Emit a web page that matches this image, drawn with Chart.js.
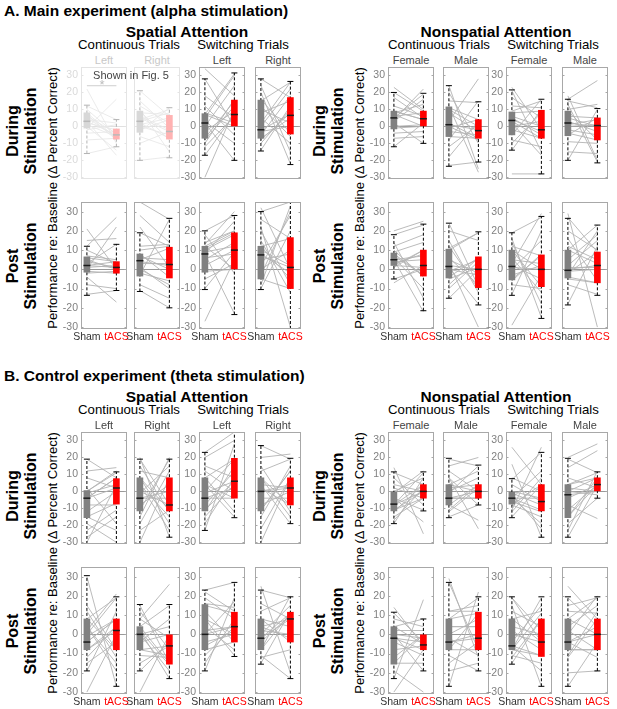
<!DOCTYPE html>
<html>
<head>
<meta charset="utf-8">
<script src="https://cdn.jsdelivr.net/npm/chart.js@4.4.1/dist/chart.umd.min.js"></script>
<style>
    body { margin: 0; background: #fff; width: 617px; height: 709px; position: relative; overflow: hidden;
           font-family: "Liberation Sans", Arial, sans-serif; color: #000; }
    .t { position: absolute; white-space: nowrap; transform: translate(-50%, -50%); line-height: 1; }
    .rot { transform: translate(-50%, -50%) rotate(-90deg); text-align: center; }
    canvas { position: absolute; }
</style>
</head>
<body>
<script>
(function() {
    'use strict';

    // ---- data ----
    const panelTitles = ['Left', 'Right', 'Left', 'Right', 'Female', 'Male', 'Female', 'Male'];
    const groupLabels = ['Sham', 'tACS'];
    const tickValues = [-30, -20, -10, 0, 10, 20, 30];

    // box stats per panel: [lower whisker, q1, median, q3, upper whisker]
    const boxAduringSham = [[-16, -1, 3, 8, 12.5], [-20, -3.5, 3, 9, 21], [-17, -7, 2, 7.5, 28], [-14.5, -7, -2, 15.5, 28],
                            [-12, -1.5, 5, 9, 20], [-23.5, -6, 1, 11.5, 24], [-14, -5, 3.5, 8.5, 21.5], [-20, -5.5, 2, 9, 16]];
    const boxAduringTacs = [[-12, -7.5, -5, -1.5, 4], [-18.5, -7.5, -3, 6.5, 11], [-20, 0, 7, 15.5, 31.5], [-22.5, -4.5, 6.5, 17, 26.5],
                            [-10, 0, 4.5, 9, 19.5], [-21, -7, -2.5, 4, 14.5], [-28, -7, -2, 9.5, 16], [-21.5, -8, 0.5, 5, 10.5]];
    const boxApostSham = [[-13.5, -1.5, 2, 6.5, 12], [-11.5, -3.5, 4.5, 8, 19], [-10.5, -1.5, 8, 12, 20], [-10.5, -5, 7.5, 12, 30],
                          [-5, 2, 5, 8.5, 18], [-15, -4.5, 1.5, 10.5, 24], [-13.5, -5.5, 1.5, 10, 19], [-18.5, -4.5, -0.5, 10, 26.5]];
    const boxApostTacs = [[-11, -2, 1, 4, 13], [-20, -4.5, 2.5, 11.5, 26.5], [-23.5, 0, 10, 19, 28], [-31, -10, 1, 16.5, 35],
                          [-21.5, -3.5, 2, 10, 23.5], [-18.5, -9.5, 0, 6.5, 19.5], [-25.5, -9, 0, 7.5, 27.5], [-13.5, -7, 2, 9, 23]];
    const boxBduringSham = [[-31, -15.5, -4, 0.5, 19], [-31, -11.5, -4, 8, 19], [-23, -11.5, -4, 8, 23], [-31, -11.5, 0, 8, 27],
                            [-19, -11.5, -7.5, -0.5, 11.5], [-15.5, -8, -4, 4, 19.5], [-15.5, -7.5, -4, -0.5, 7.5], [-27, -15.5, -2, 4, 19.5]];
    const boxBduringTacs = [[-31, -7.5, 2, 7.5, 11.5], [-27, -11.5, -8, 8, 19], [-15.5, -4, 6, 19.5, 35], [-19, -8, 2, 8, 19.5],
                            [-11.5, -4, 0, 4, 11.5], [-8, -4, 0, 4, 15.5], [-27, -11.5, -6, 4, 23], [-4, 0, 4, 8, 11.5]];
    const boxBpostSham = [[-19, -8, -4, 8, 30.5], [-19, -8, 0, 4, 15.5], [-19, -8, 0, 15.5, 23], [-15.5, -8, -2, 8, 23],
                          [-23, -15.5, -2, 4, 11.5], [-27, -8, -4, 8, 27], [-15.5, -8, -6, 8, 19.5], [-27, -8, -4, 8, 19.5]];
    const boxBpostTacs = [[-27, -8, 2, 8, 19.5], [-23, -15.5, -6, 0, 15.5], [-11.5, -4, 4, 11.5, 27], [-23, -4, 8, 11.5, 19.5],
                          [-19, -8, -5.5, 0, 8], [-19, -8, -2, 11.5, 19.5], [-27, -11.5, -4, 8, 19.5], [-19, -8, 0, 8, 19.5]];

    // individual subjects, sham value and tACS value in the same order
    const subjAduringSham = [
        [3, 8, -16, 12, 5, -1, 2, 7, 22, -4, 10, 0, 4, -8, 1, 6, -2, 3],
        [21, 9, -3, 5, 12, -20, 3, 0, 15, -6, 8, 2, -10, 4, 10, -2, 6, 1],
        [28, 7, -7, 2, 34, -17, 5, -30, 12, -10, 0, 8, -3, 18, 3, -8, 7, -12],
        [28, 15, -7, 20, -2, 5, -14, 16, 0, -5, 10, -8, 24, -3, 2, 12, -10, 8],
        [20, 9, 5, -1, 2, 17, 8, -12, 4, 6, -7, 0, 12, 23, 3, 9, -4, 7],
        [24, 11, -6, 1, 15, -23, 3, -3, 10, -12, 0, 8, -8, 20, 2, -18, 12, -1],
        [21, 8, -5, 3, 23, -14, 5, 0, 9, -8, 2, 17, -2, 6, 12, -28, 4, -10],
        [16, 9, -5, 2, 18, -20, 3, 0, 10, -9, 1, 13, -4, 6, 15, -15, 5, -2]
    ];
    const subjAduringTacs = [
        [-5, -7, -12, 4, -6, 16, -2, -8, -10, -3, -5, -14, 2, -7, -6, -4, 1, -17],
        [6, -8, 11, -3, 2, -18, 8, -5, -1, -12, 7, -7, -3, 10, -15, 4, -2, 5],
        [0, 31, 15, -20, 18, 7, 30, 10, -5, 16, 24, 2, 9, 5, -10, 12, 0, 6],
        [17, 26, 5, -22, 7, -10, 12, -4, 22, 18, 2, 8, -15, 0, 26, -6, 10, 15],
        [9, 4, 19, 0, -10, 5, 13, 2, 22, 8, -6, 1, 6, 10, 16, 4, -3, 0],
        [-25, 4, -7, -2, 14, -21, 28, -5, 0, 1, -8, -3, 15, -10, -7, 3, -27, 4],
        [-15, 9, 16, -7, -2, 10, -5, 3, 15, -12, -17, 5, -7, 0, 11, -28, -3, 8],
        [27, -8, 5, 0, -20, 10, -3, 1, 13, -10, 4, -21, -8, 5, 11, -16, 0, -5]
    ];
    const subjApostSham = [
        [12, 6, -1, 2, 21, -13, 3, 0, 10, -4, 1, 7, -2, 5, 15, -8, 2, 4],
        [19, 8, -3, 4, 35, -11, 5, 0, 28, -8, 3, 12, -2, 7, 22, 6, 10, 1],
        [20, 12, -1, 8, 13, -10, 9, -27, 11, 2, 8, 18, 5, 12, -5, 10, 6, 14],
        [30, 12, -5, 7, 22, -10, 8, 0, 20, -8, 10, 15, -3, 12, 26, 5, 32, 2],
        [18, 8, 2, 5, 20, -5, 6, 3, 9, -7, 4, 14, 1, 7, 12, 5, 10, 2],
        [24, 10, -4, 1, 20, -15, 3, -1, 12, -8, 0, 15, -5, 6, 11, -10, 2, 5],
        [19, 10, -5, 1, 16, -13, 3, -29, 12, -8, 0, 14, -3, 6, 10, -6, 2, 5],
        [27, 10, -4, 0, 29, -18, 2, -1, 12, -8, -2, 16, 5, 10, -5, 20, 1, -3]
    ];
    const subjApostTacs = [
        [27, 4, -2, 1, 0, -11, 13, 22, 3, -17, 2, 5, -1, 0, 16, -10, 4, 1],
        [12, -4, 26, 2, 26, -20, 11, -8, 14, -15, 3, 13, -6, 0, 1, 5, 12, -10],
        [28, 20, 0, -23, 30, 9, 12, 5, 19, 10, 25, -2, 14, 0, 3, 18, 8, 20],
        [35, 16, -10, 1, -30, 20, -2, 10, -8, 33, 2, -12, 30, -5, 16, 8, 0, 28],
        [23, -3, 10, -22, 25, 0, -10, 8, 14, 2, 5, -15, 10, -3, 18, 7, -4, 1],
        [-9, 19, 6, -18, 15, 0, -30, 5, -10, 6, -3, -12, 1, -8, 19, 4, 0, -2],
        [27, -9, 7, 0, -25, 20, 29, -3, 7, -10, 15, -18, 2, -12, 0, 8, -5, 3],
        [9, 23, -7, 2, -30, 12, 15, 0, 5, -13, 9, -6, 18, 3, -7, 10, 1, 20]
    ];
    const subjBduringSham = [
        [19, 0, -15, -4, 2, -30, -8, -12, 0, -19, -4, 8, -23, -1, 12, -15, -27, -4],
        [19, 8, -11, -4, 20, -30, 4, -8, 15, -15, 0, 8, -19, -4, 12, -23, -1, 4],
        [23, 8, -11, -4, 15, -23, 4, -8, 12, -15, 0, 8, -19, -4, 20, -1, 4, -12],
        [27, 8, -11, 0, 20, -30, 4, -8, 15, -15, 0, 8, -22, -4, 12, 2, -11, 4],
        [11, -1, -11, -8, 14, -19, -4, -12, 4, -15, -8, 8, -17, -4, 0, -11, -8, 2],
        [19, 4, -8, -4, 15, -15, 8, -11, 4, -4, 0, 12, -12, -8, 2, -4, 8, -1],
        [7, -1, -8, -4, 16, -15, -4, -11, 4, -8, -4, 0, -12, -2, 8, -6, 26, -4],
        [19, 4, -15, -2, 20, -27, 4, -19, 0, -8, -4, 8, -23, 2, 14, -15, -11, 0]
    ];
    const subjBduringTacs = [
        [8, 11, -7, 2, -19, 4, -8, 0, 12, -30, 8, 2, -11, 4, 14, -23, -15, 8],
        [-8, -11, 19, 0, -27, 8, -15, 4, -12, 20, -8, -19, 12, -4, 8, -11, 15, -23],
        [35, 19, 6, -4, 8, 28, -15, 12, 0, 4, 19, -12, 8, 2, 30, 6, -4, 15],
        [19, -8, 12, 2, 22, 8, -19, 0, -12, 15, 4, -15, 8, -4, 19, -8, 12, 2],
        [4, 12, -4, 0, -25, 8, -11, 4, 0, -4, 11, -8, 2, -18, 8, 0, 4, -4],
        [15, 0, 4, -4, 20, -8, -22, 4, 12, -4, 8, 0, 2, -17, 4, 0, -8, 15],
        [23, -8, 4, -11, -27, 4, -19, 26, -6, -15, 12, -4, 8, -22, 0, -12, 4, -4],
        [11, 8, 4, 0, 28, 4, 11, -4, 8, -16, 4, 2, 12, 0, 24, 8, 4, -2]
    ];
    const subjBpostSham = [
        [30, 8, -8, -4, 15, -19, 4, -12, 0, -15, -4, 8, -30, 2, 12, -8, -1, 4],
        [15, 4, -8, 0, 8, -19, 2, -4, 12, -11, 0, 4, -15, -4, 8, -8, 2, -30],
        [23, 15, -8, 0, 19, -19, 8, -4, 16, -11, 0, 12, -15, 4, 22, -6, 2, 8],
        [23, 8, -8, -2, 25, -15, 4, -11, 12, -12, 0, 8, -4, 2, 16, -8, 4, -2],
        [11, 4, -15, -2, 14, -23, 0, -19, 4, -12, -4, 8, -30, -2, 2, -15, -8, 0],
        [27, 8, -8, -4, 29, -27, 4, -11, 12, -8, -4, 12, -15, 0, 8, -2, -19, 4],
        [19, 8, -8, -6, 15, -15, 4, -11, 12, -8, -4, 0, -12, -6, 19, 2, -8, 8],
        [19, 8, -8, -4, 25, -27, 4, -20, 12, -8, 0, 8, -12, -4, 15, -4, 2, -11]
    ];
    const subjBpostTacs = [
        [-27, 19, 2, 8, -8, 12, -15, 4, 19, -4, 8, -8, 0, 21, -12, 4, 8, -19],
        [-15, 15, -6, -19, 26, -4, -23, 0, -8, -12, 4, -15, -6, 8, -2, -11, -16, 0],
        [27, 11, -4, 4, 8, 19, -11, 0, 14, 4, 17, -4, 8, -8, 12, 2, 4, 0],
        [19, -4, 11, 8, -20, 12, 8, -23, 19, -8, 15, 4, 10, 0, 8, 20, -2, 11],
        [-4, 8, 0, -8, -6, 18, -19, -30, -5, 0, -11, 4, -8, -4, 2, -15, -6, -2],
        [-8, 19, 11, -2, -12, 22, 4, -19, 12, -8, 0, 15, -4, 8, 11, -11, -15, 4],
        [-4, 12, 19, -11, -27, 8, 0, -15, 4, -11, 15, -4, 8, -19, 2, -8, 11, -4],
        [4, 19, -8, 0, 8, -4, 15, -19, 11, -8, 20, 0, 8, -12, 19, 4, -8, 12]
    ];

    const sigLevelA = 24;   // significance bar over the faded continuous/left panel

    // ---- layout ----
    const PANEL_W = 46, PANEL_H = 127;
    const GUTTER = 24, PAD_T = 10, PAD_R = 12, AXIS_H = 15;
    const panelLeft = [81, 134, 199, 255, 388, 443, 506, 562];
    const rowTop = [67, 202];
    const SECTION_DY = 365;
    const groupPos = [1, 2];

    Chart.defaults.font.family = '"Liberation Sans", Arial, sans-serif';
    Chart.defaults.animation = false;

    const sections = [
        { title: 'A. Main experiment (alpha stimulation)', rows: [
            { sham: boxAduringSham, tacs: boxAduringTacs, subjS: subjAduringSham, subjT: subjAduringTacs },
            { sham: boxApostSham, tacs: boxApostTacs, subjS: subjApostSham, subjT: subjApostTacs }
        ]},
        { title: 'B. Control experiment (theta stimulation)', rows: [
            { sham: boxBduringSham, tacs: boxBduringTacs, subjS: subjBduringSham, subjT: subjBduringTacs },
            { sham: boxBpostSham, tacs: boxBpostTacs, subjS: subjBpostSham, subjT: subjBpostTacs }
        ]}
    ];

    function addText(html, x, y, css, cls) {
        const d = document.createElement('div');
        d.className = 't' + (cls ? ' ' + cls : '');
        d.innerHTML = html;
        d.style.left = x + 'px';
        d.style.top = y + 'px';
        Object.assign(d.style, css || {});
        document.body.appendChild(d);
        return d;
    }

    // frame and inward tick marks like the original axes
    const framePlugin = {
        id: 'frame',
        afterDatasetsDraw(chart) {
            const { ctx, chartArea: a, scales: { y } } = chart;
            ctx.save();
            ctx.strokeStyle = '#a8a8a8';
            ctx.lineWidth = 1;
            ctx.strokeRect(a.left + 0.5, a.top + 0.5, a.width - 1, a.height - 1);
            ctx.beginPath();
            y.ticks.forEach(t => {
                const py = Math.round(y.getPixelForValue(t.value)) + 0.5;
                ctx.moveTo(a.left, py); ctx.lineTo(a.left + 2.5, py);
                ctx.moveTo(a.right - 2.5, py); ctx.lineTo(a.right, py);
            });
            ctx.stroke();
            ctx.restore();
        }
    };

    function makePanel(x, y, p) {
        const w = GUTTER + PANEL_W + PAD_R;
        const h = PAD_T + PANEL_H + (p.bottomRow ? AXIS_H + 2 : PAD_T);
        const c = document.createElement('canvas');
        c.width = w; c.height = h;
        c.style.left = (x - GUTTER) + 'px';
        c.style.top = (y - PAD_T) + 'px';
        c.style.width = w + 'px';
        c.style.height = h + 'px';
        if (p.faded) c.style.opacity = 0.3;
        document.body.appendChild(c);

        const stats = [p.sham, p.tacs];
        const datasets = [];

        // medians
        datasets.push({
            type: 'line', order: 0, showLine: false,
            data: groupPos.map((g, i) => ({ x: g, y: stats[i][2] })),
            pointStyle: 'line', pointRadius: 3.5, pointBorderColor: '#1a1a1a', pointBorderWidth: 1.5
        });
        // boxes (q1..q3)
        datasets.push({
            type: 'bar', order: 1, grouped: false,
            data: groupPos.map((g, i) => ({ x: g, y: [stats[i][1], stats[i][3]] })),
            backgroundColor: ['#808080', '#ff0000'], borderWidth: 0, barThickness: 6
        });
        // whiskers with caps
        groupPos.forEach((g, i) => {
            datasets.push({
                type: 'line', order: 2,
                data: [{ x: g, y: stats[i][0] }, { x: g, y: stats[i][4] }],
                borderColor: '#000', borderWidth: 1, borderDash: [3, 2],
                pointStyle: 'line', pointRadius: 3, pointBorderColor: '#000', pointBorderWidth: 1
            });
        });
        // subject lines sham -> tACS
        datasets.push({
            type: 'line', order: 3, spanGaps: false,
            data: p.subjS.flatMap((s, k) => [{ x: groupPos[0], y: s }, { x: groupPos[1], y: p.subjT[k] }, { x: 1.5, y: null }]),
            borderColor: '#b3b3b3', borderWidth: 0.9, pointRadius: 0
        });
        if (p.sig != null) {
            datasets.push({
                type: 'line', order: 0,
                data: groupPos.map(g => ({ x: g, y: p.sig })),
                borderColor: '#777', borderWidth: 1.2, pointRadius: 0
            });
        }

        new Chart(c, {
            type: 'line',
            data: { datasets: datasets },
            options: {
                responsive: false,
                events: [],
                layout: { padding: { top: PAD_T, right: PAD_R, bottom: p.bottomRow ? 2 : PAD_T, left: 0 } },
                plugins: { legend: { display: false }, tooltip: { enabled: false } },
                scales: {
                    x: {
                        type: 'linear', min: 0.8, max: 2.36, offset: false,
                        display: p.bottomRow,
                        afterBuildTicks: s => { s.ticks = groupPos.map(v => ({ value: v })); },
                        afterFit: s => { s.height = AXIS_H; },
                        grid: { display: false, drawTicks: false },
                        border: { display: false },
                        ticks: {
                            autoSkip: false, maxRotation: 0, minRotation: 0, padding: 2,
                            font: { size: 10.5 },
                            color: ctx => ctx.index === 0 ? '#333' : '#ff0000',
                            callback: (v, i) => groupLabels[i]
                        }
                    },
                    y: {
                        min: -31, max: 35,
                        afterBuildTicks: s => { s.ticks = tickValues.map(v => ({ value: v })); },
                        afterFit: s => { s.width = GUTTER; },
                        border: { display: false },
                        grid: {
                            drawTicks: false, lineWidth: 1,
                            color: ctx => (ctx.tick && ctx.tick.value === 0) ? '#999' : 'rgba(0,0,0,0)'
                        },
                        ticks: { display: p.showTicks, padding: 3, font: { size: 10.5 }, color: '#808080' }
                    }
                }
            },
            plugins: [framePlugin]
        });
    }

    sections.forEach((sec, si) => {
        const dy = si * SECTION_DY;
        addText(sec.title, 4, 11 + dy, { transform: 'translate(0,-50%)', fontSize: '15.5px', fontWeight: 'bold' });
        addText('Spatial Attention', 187, 32 + dy, { fontSize: '15.5px', fontWeight: 'bold' });
        addText('Nonspatial Attention', 496, 32 + dy, { fontSize: '15.5px', fontWeight: 'bold' });
        [129, 439].forEach(cx => addText('Continuous Trials', cx, 45 + dy, { fontSize: '13.2px' }));
        [243, 553].forEach(cx => addText('Switching Trials', cx, 45 + dy, { fontSize: '13.2px' }));

        [0, 307].forEach(ox => {
            addText('During<br>Stimulation', 22 + ox, (rowTop[0] + PANEL_H / 2) + dy,
                { fontSize: '16px', fontWeight: 'bold', lineHeight: '18px' }, 'rot');
            addText('Post<br>Stimulation', 22 + ox, (rowTop[1] + PANEL_H / 2) + dy,
                { fontSize: '16px', fontWeight: 'bold', lineHeight: '18px' }, 'rot');
            addText('Performance re: Baseline (&Delta; Percent Correct)', 52 + ox,
                (rowTop[0] + rowTop[1] + PANEL_H) / 2 + dy, { fontSize: '13px' }, 'rot');
        });

        panelTitles.forEach((pt, i) => {
            const faded = si === 0 && i < 2;
            addText(pt, panelLeft[i] + PANEL_W / 2, 60 + dy, { fontSize: '11px', color: faded ? '#c8c8c8' : '#444' });
        });

        sec.rows.forEach((row, ri) => {
            panelLeft.forEach((px, i) => {
                const faded = si === 0 && ri === 0 && i < 2;
                makePanel(px, rowTop[ri] + dy, {
                    sham: row.sham[i], tacs: row.tacs[i],
                    subjS: row.subjS[i], subjT: row.subjT[i],
                    bottomRow: ri === 1,
                    showTicks: i % 2 === 0,
                    faded: faded,
                    sig: (faded && i === 0) ? sigLevelA : null
                });
            });
        });
    });

    addText('Shown in Fig. 5', 131, 75, { fontSize: '11px', color: '#444' });
    addText('*', 102, 84, { fontSize: '13px', color: '#bbb' });
})();
</script>
</body>
</html>
